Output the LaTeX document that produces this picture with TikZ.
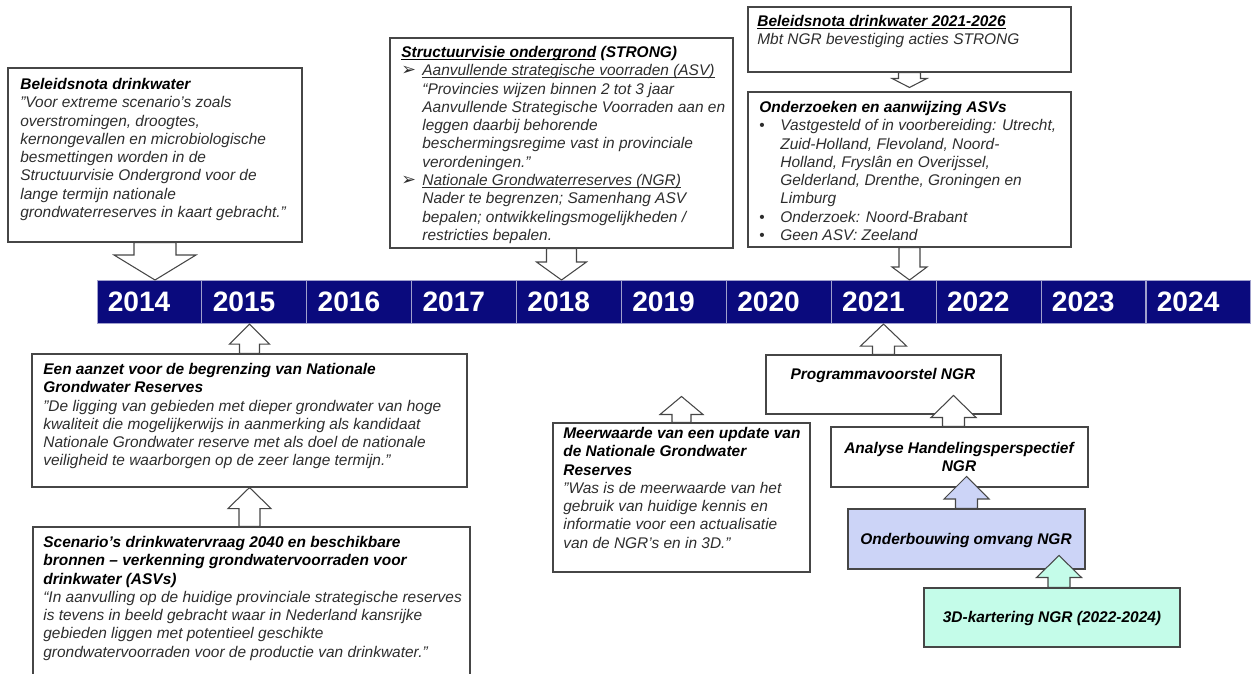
\documentclass[tikz,border=0pt]{standalone}
\usepackage{fontspec}
\setmainfont{Liberation Sans}
\newfontfamily\symfont{DejaVu Sans}
\usetikzlibrary{calc,fit}

\definecolor{navy}{RGB}{10,10,125}
\definecolor{cellline}{RGB}{160,160,205}
\definecolor{linegrey}{RGB}{70,70,70}
\definecolor{bodygrey}{RGB}{45,45,45}
\definecolor{lavender}{RGB}{204,212,247}
\definecolor{mint}{RGB}{196,252,233}

\newcommand{\bodysize}{\fontsize{8.8}{10.4}\selectfont}
\newcommand{\boxtitle}[1]{{\bfseries\itshape\color{black}#1}}
\newcommand{\bul}[1]{\makebox[0.42cm][l]{\upshape#1}}
\newcommand{\ind}{\hspace*{0.42cm}}
\newcommand{\arrbul}{\bul{\symfont\fontsize{10}{10}\selectfont ➢}}
% underline just below the baseline
\newcommand{\uln}[1]{\setbox0\hbox{#1}\rlap{\rule[-1.3pt]{\wd0}{0.5pt}}\box0\relax}

% block arrow: [fill]{from}{to}{shaft half}{head half}{head length}, sizes in px
\newcommand{\blockarrow}[6][white]{%
  \coordinate (hb) at ($(#3)!#6*0.02cm!(#2)$);
  \draw[arrowline, fill=#1]
    ($(#2)!#4*0.02cm!90:(#3)$) -- ($(hb)!#4*0.02cm!90:(#3)$)
    -- ($(hb)!#5*0.02cm!90:(#3)$) -- (#3)
    -- ($(hb)!#5*0.02cm!-90:(#3)$) -- ($(hb)!#4*0.02cm!-90:(#3)$)
    -- ($(#2)!#4*0.02cm!-90:(#3)$) -- cycle;
}

\begin{document}
\begin{tikzpicture}[x=0.02cm, y=-0.02cm,
    box/.style={draw=linegrey, line width=0.6pt, inner sep=0pt},
    txt/.style={anchor=north west, inner sep=0pt, align=left, text=bodygrey, font=\bodysize\itshape},
    midtxt/.style={inner sep=0pt, align=center, text=black, font=\bodysize\bfseries\itshape},
    yearcell/.style={draw=cellline, line width=0.6pt, fill=navy, minimum width=2.098cm,
      minimum height=0.86cm, inner sep=0pt, anchor=north west},
    yeartxt/.style={anchor=west, inner sep=0pt, text=white, font=\fontsize{16}{19}\selectfont\bfseries},
    arrowline/.style={draw=linegrey, line width=0.6pt, line join=miter}]

  \useasboundingbox (0,0) rectangle (1257,673);

  % Timeline
  \foreach \yr [count=\i from 0] in {2014,...,2024} {
    \node[yearcell] (y\yr) at ({96.5+\i*104.9},280) {};
    \node[yeartxt] (t\yr) at ($(y\yr.west)+(11,0)$) {\yr};
  }

  % Boxes above the timeline
  \node[box, fit={(8,68) (302,242)}] (bnota) {};
  \node[txt] (bnotat) at (20,78) {\boxtitle{Beleidsnota drinkwater}\\
    "Voor extreme scenario's zoals\\
    overstromingen, droogtes,\\
    kernongevallen en microbiologische\\
    besmettingen worden in de\\
    Structuurvisie Ondergrond voor de\\
    lange termijn nationale\\
    grondwaterreserves in kaart gebracht."};

  \node[box, fit={(390,38) (733,248)}] (bstrong) {};
  \node[txt] (bstrongt) at (401,46) {\boxtitle{\uln{Structuurvisie ondergrond} (STRONG)}\\
    \arrbul\uln{Aanvullende strategische voorraden (ASV)}\\
    \ind “Provincies wijzen binnen 2 tot 3 jaar\\
    \ind Aanvullende Strategische Voorraden aan en\\
    \ind leggen daarbij behorende\\
    \ind beschermingsregime vast in provinciale\\
    \ind verordeningen.”\\
    \arrbul\uln{Nationale Grondwaterreserves (NGR)}\\
    \ind Nader te begrenzen; Samenhang ASV\\
    \ind bepalen; ontwikkelingsmogelijkheden /\\
    \ind restricties bepalen.};

  \node[box, fit={(748,7) (1071,72)}] (bnota21) {};
  \node[txt] (bnota21t) at (757,15) {\boxtitle{\uln{Beleidsnota drinkwater 2021-2026}}\\
    Mbt NGR bevestiging acties STRONG};

  \node[box, fit={(748,92) (1071,247)}] (basv) {};
  \node[txt] (basvt) at (759,101) {\boxtitle{Onderzoeken en aanwijzing ASVs}\\
    \bul{•}Vastgesteld of in voorbereiding: Utrecht,\\
    \ind Zuid-Holland, Flevoland, Noord-\\
    \ind Holland, Fryslân en Overijssel,\\
    \ind Gelderland, Drenthe, Groningen en\\
    \ind Limburg\\
    \bul{•}Onderzoek: Noord-Brabant\\
    \bul{•}Geen ASV: Zeeland};

  % Boxes below the timeline
  \node[box, fit={(32,354) (467,487)}] (baanzet) {};
  \node[txt] (baanzett) at (43,363) {\boxtitle{Een aanzet voor de begrenzing van Nationale}\\
    \boxtitle{Grondwater Reserves}\\
    "De ligging van gebieden met dieper grondwater van hoge\\
    kwaliteit die mogelijkerwijs in aanmerking als kandidaat\\
    Nationale Grondwater reserve met als doel de nationale\\
    veiligheid te waarborgen op de zeer lange termijn."};

  \node[box, fit={(33,527) (470,700)}] (bscen) {};
  \node[txt] (bscent) at (43,536) {\boxtitle{Scenario's drinkwatervraag 2040 en beschikbare}\\
    \boxtitle{bronnen -- verkenning grondwatervoorraden voor}\\
    \boxtitle{drinkwater (ASVs)}\\
    “In aanvulling op de huidige provinciale strategische reserves\\
    is tevens in beeld gebracht waar in Nederland kansrijke\\
    gebieden liggen met potentieel geschikte\\
    grondwatervoorraden voor de productie van drinkwater.”};

  \node[box, fit={(553,423) (810,572)}] (bmeer) {};
  \node[txt] (bmeert) at (563,427) {\boxtitle{Meerwaarde van een update van}\\
    \boxtitle{de Nationale Grondwater}\\
    \boxtitle{Reserves}\\
    "Was is de meerwaarde van het\\
    gebruik van huidige kennis en\\
    informatie voor een actualisatie\\
    van de NGR's en in 3D."};

  \node[box, fit={(766,355) (1001,414)}] (bprog) {};
  \node[midtxt] (bprogt) at (883,375) {Programmavoorstel NGR};

  \node[box, fit={(831,427) (1088,487)}] (bana) {};
  \node[midtxt] (banat) at (959,457) {Analyse Handelingsperspectief\\ NGR};

  \node[box, fill=lavender, fit={(848,509) (1085,569)}] (bonder) {};
  \node[midtxt] (bondert) at (966,540) {Onderbouwing omvang NGR};

  \node[box, fill=mint, fit={(924,588) (1180,647)}] (bkart) {};
  \node[midtxt] (bkartt) at (1052,618) {3D-kartering NGR (2022-2024)};

  % Arrows
  \coordinate (tnota) at (bnota.south |- y2014.north);
  \blockarrow{bnota.south}{tnota}{21}{41}{25}
  \coordinate (tstrong) at (bstrong.south |- y2018.north);
  \blockarrow{bstrong.south}{tstrong}{15}{25}{18}
  \coordinate (tnota21) at ($(basv.north)+(0,-4)$);
  \blockarrow{bnota21.south}{tnota21}{11}{17.5}{9}
  \coordinate (tasv) at (basv.south |- y2021.north);
  \blockarrow{basv.south}{tasv}{10.5}{17.5}{13}
  \coordinate (taanzet) at (baanzet.north |- y2015.south);
  \blockarrow{baanzet.north}{taanzet}{10}{20}{20}
  \coordinate (sscen) at (baanzet.south |- bscen.north);
  \blockarrow{sscen}{baanzet.south}{10.5}{21.5}{21}
  \coordinate (tmeer) at ($(bmeer.north)+(0,-26)$);
  \blockarrow{bmeer.north}{tmeer}{9.5}{21.5}{18}
  \coordinate (tprog) at (bprog.north |- y2021.south);
  \blockarrow{bprog.north}{tprog}{11}{23}{22}
  \coordinate (sana) at ($(bana.north)+(-6,0)$);
  \coordinate (tana) at ($(bana.north)+(-6,-31)$);
  \blockarrow{sana}{tana}{11}{22.5}{22}
  \coordinate (tonder) at ($(bonder.north)+(0,-32)$);
  \blockarrow[lavender]{bonder.north}{tonder}{11}{22.5}{22.5}
  \coordinate (skart) at ($(bkart.north)+(7,0)$);
  \coordinate (tkart) at ($(bkart.north)+(7,-32)$);
  \blockarrow[mint]{skart}{tkart}{11}{22.5}{22}
\end{tikzpicture}
\end{document}
